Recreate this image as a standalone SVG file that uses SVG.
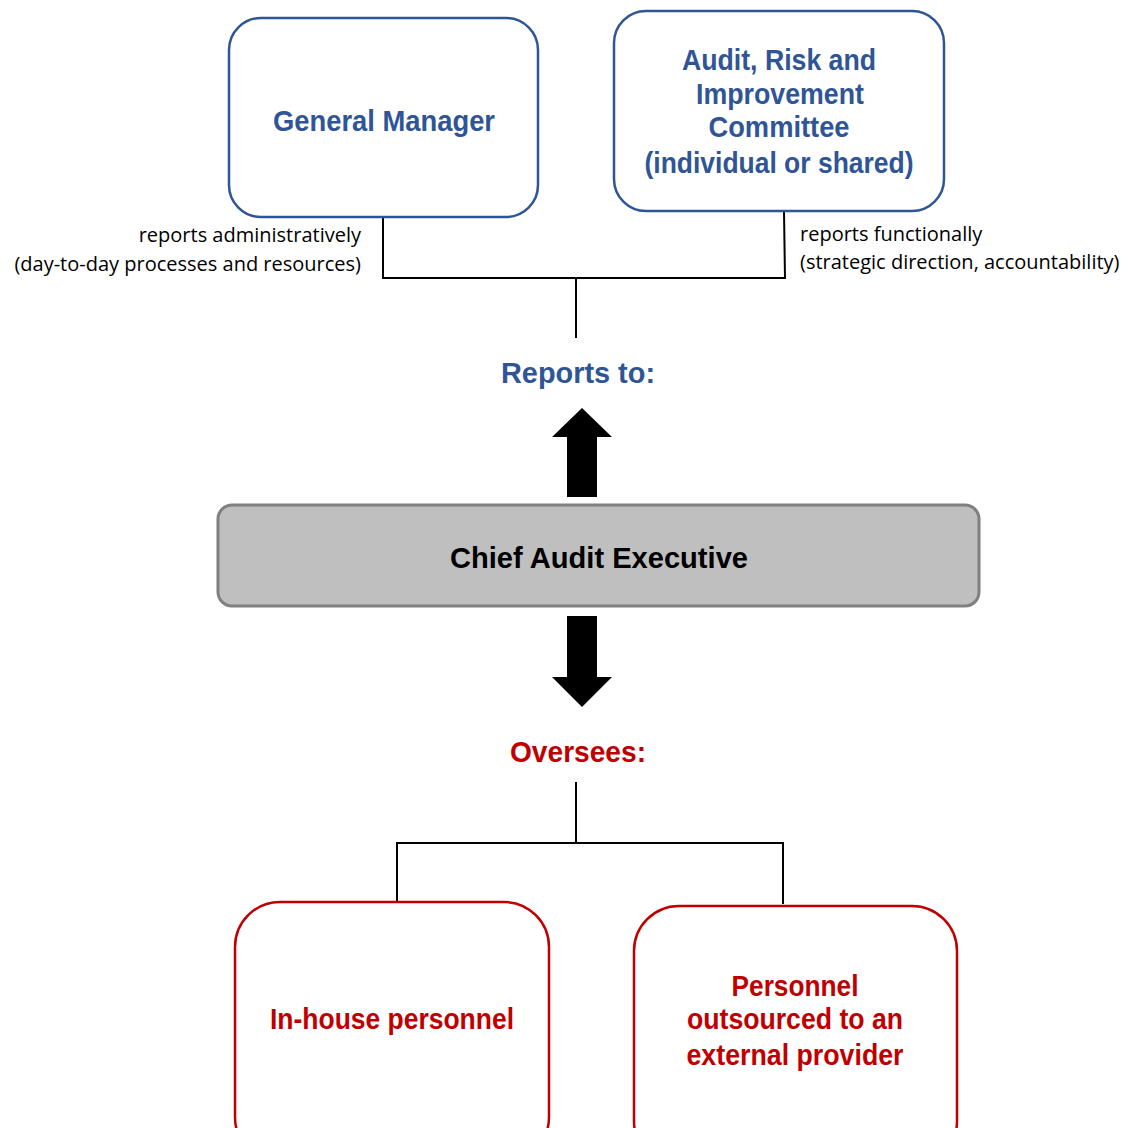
<svg xmlns="http://www.w3.org/2000/svg" width="1128" height="1128" viewBox="0 0 1128 1128">
<style>
.bx{fill:#fff;stroke-width:2.5}
.blue{stroke:#2F5597}
.red{stroke:#C00000}
.tb{font-family:"Liberation Sans",Arial,sans-serif;font-weight:bold;text-anchor:middle;font-size:30px}
.tbl{fill:#2F5597}
.trd{fill:#C00000}
.lbl{font-family:"Open Sans","Noto Sans",sans-serif;font-size:20px;fill:#000}
.ln{stroke:#000;stroke-width:2;fill:none}
</style>
<rect width="1128" height="1128" fill="#fff"/>
<g id="connectors">
<polyline class="ln" points="383,217 383,278 785,278 784,211"/>
<line class="ln" x1="576" y1="278" x2="576" y2="338"/>
<polyline class="ln" points="397,902 397,843 783,843 783,904"/>
<line class="ln" x1="576" y1="782" x2="576" y2="843"/>
<polygon points="582,408 612,437 597,437 597,497 567,497 567,437 552,437" fill="#000"/>
<polygon points="582,707 612,677 597,677 597,616 567,616 567,677 552,677" fill="#000"/>
</g>
<g id="labels">
<text class="lbl" x="361" y="242" text-anchor="end">reports administratively</text>
<text class="lbl" x="361" y="271" text-anchor="end">(day-to-day processes and resources)</text>
<text class="lbl" x="800" y="241">reports functionally</text>
<text class="lbl" x="800" y="269">(strategic direction, accountability)</text>
<text class="tb tbl" x="578" y="383" textLength="154" lengthAdjust="spacingAndGlyphs">Reports to:</text>
<text class="tb trd" x="578" y="762" textLength="136" lengthAdjust="spacingAndGlyphs">Oversees:</text>
</g>
<g id="general-manager">
<rect class="bx blue" x="229" y="18" width="309" height="199" rx="32"/>
<text class="tb tbl" x="384" y="131" textLength="222" lengthAdjust="spacingAndGlyphs">General Manager</text>
</g>
<g id="aric">
<rect class="bx blue" x="614" y="11" width="330" height="200" rx="32"/>
<text class="tb tbl"><tspan x="779" y="70" textLength="194" lengthAdjust="spacingAndGlyphs">Audit, Risk and</tspan></text>
<text class="tb tbl"><tspan x="780" y="104" textLength="168" lengthAdjust="spacingAndGlyphs">Improvement</tspan></text>
<text class="tb tbl"><tspan x="779" y="137" textLength="141" lengthAdjust="spacingAndGlyphs">Committee</tspan></text>
<text class="tb tbl"><tspan x="779" y="173" textLength="269" lengthAdjust="spacingAndGlyphs">(individual or shared)</tspan></text>
</g>
<g id="cae">
<rect x="218" y="505" width="761" height="101" rx="14" fill="#BFBFBF" stroke="#808080" stroke-width="3"/>
<text class="tb" x="599" y="568" fill="#000" textLength="298" lengthAdjust="spacingAndGlyphs">Chief Audit Executive</text>
</g>
<g id="in-house">
<rect class="bx red" x="235" y="902" width="314" height="260" rx="45"/>
<text class="tb trd" x="392" y="1029" textLength="244" lengthAdjust="spacingAndGlyphs">In-house personnel</text>
</g>
<g id="outsourced">
<rect class="bx red" x="634" y="906" width="323" height="260" rx="45"/>
<text class="tb trd" x="795" y="996" textLength="127" lengthAdjust="spacingAndGlyphs">Personnel</text>
<text class="tb trd" x="795" y="1029" textLength="216" lengthAdjust="spacingAndGlyphs">outsourced to an</text>
<text class="tb trd" x="795" y="1065" textLength="217" lengthAdjust="spacingAndGlyphs">external provider</text>
</g>
</svg>
